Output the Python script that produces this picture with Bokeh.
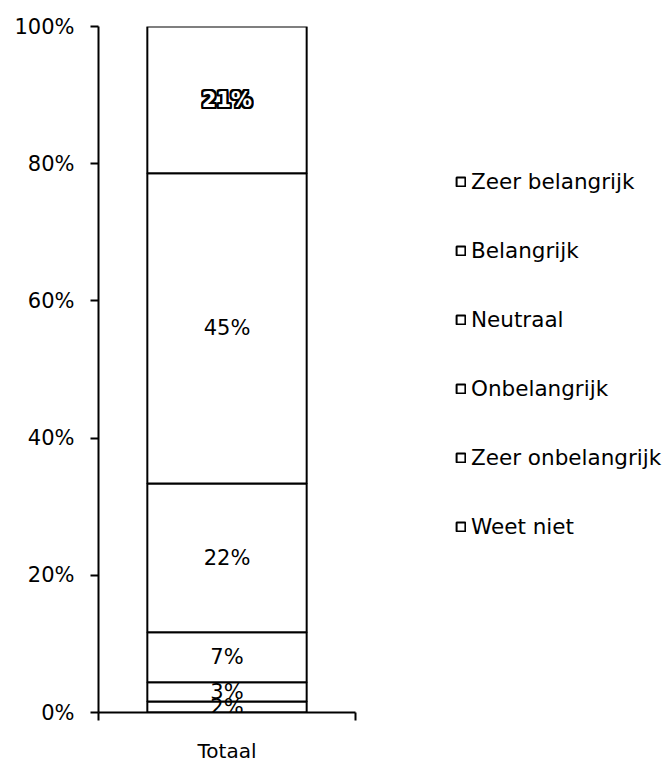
from bokeh.plotting import figure
from bokeh.models import (ColumnDataSource, FixedTicker, PrintfTickFormatter,
                          Legend, LegendItem, Range1d)
from bokeh.core.properties import value
from bokeh.embed import file_html
from bokeh.resources import INLINE

# ---- data ----
categories = ["Totaal"]
series = ["Weet niet", "Zeer onbelangrijk", "Onbelangrijk",
          "Neutraal", "Belangrijk", "Zeer belangrijk"]
values = [1.6, 2.8, 7.3, 21.7, 45.2, 21.4]
y_ticks = [0, 20, 40, 60, 80, 100]

FONT = "DejaVu Sans"

xs = [i + 0.5 for i in range(len(categories))]
data = {"x": xs}
for s, v in zip(series, values):
    data[s] = [v]
src = ColumnDataSource(data)

p = figure(frame_width=257, frame_height=686,
           x_range=Range1d(0, len(categories)), y_range=Range1d(0, 100),
           output_backend="svg", toolbar_location=None,
           min_border_left=98, min_border_top=26, min_border_bottom=44,
           min_border_right=309)

renderers = p.vbar_stack(series, x="x", width=0.62, source=src,
                         fill_color="white", line_color="black", line_width=2)

# segment labels
mids, texts = [], []
acc = 0
for v in values:
    mids.append(acc + v / 2)
    texts.append(f"{round(v)}%")
    acc += v
lab = ColumnDataSource(dict(x=[xs[0]] * (len(values) - 1), y=mids[:-1], text=texts[:-1]))
p.text(x="x", y="y", text="text", source=lab, text_align="center",
       text_baseline="middle", text_font=value(FONT), text_font_size="21px",
       text_color="black")

# last label with halo
top = ColumnDataSource(dict(x=[xs[0]], y=[mids[-1]], text=[texts[-1]]))
for dx in (-2, -1, 0, 1, 2):
    for dy in (-2, -1, 0, 1, 2):
        if dx == 0 and dy == 0:
            continue
        p.text(x="x", y="y", text="text", source=top, text_align="center",
               text_baseline="middle", text_font=value(FONT), text_font_size="21px",
               text_font_style="bold", text_color="black", x_offset=dx, y_offset=dy)
p.text(x="x", y="y", text="text", source=top, text_align="center",
       text_baseline="middle", text_font=value(FONT), text_font_size="21px",
       text_font_style="bold", text_color="white")

# axes
p.xgrid.visible = False
p.ygrid.visible = False
p.outline_line_color = None

ya = p.yaxis[0]
ya.ticker = FixedTicker(ticks=y_ticks)
ya.formatter = PrintfTickFormatter(format="%d%%")
ya.major_tick_in = 0
ya.major_tick_out = 8
ya.minor_tick_out = 0
ya.minor_tick_in = 0
ya.axis_line_width = 2
ya.major_tick_line_width = 2
ya.major_label_text_font = FONT
ya.major_label_text_font_size = "21px"
ya.major_label_text_color = "black"
ya.major_label_standoff = 16

xa = p.xaxis[0]
xa.ticker = FixedTicker(ticks=xs, minor_ticks=list(range(len(categories) + 1)))
xa.major_label_overrides = {x: c for x, c in zip(xs, categories)}
xa.major_tick_in = 0
xa.major_tick_out = 0
xa.minor_tick_in = 0
xa.minor_tick_out = 8
xa.minor_tick_line_width = 2
xa.axis_line_width = 2
xa.major_label_text_font = FONT
xa.major_label_text_font_size = "20px"
xa.major_label_text_color = "black"
xa.major_label_standoff = 18

items = [LegendItem(label=s, renderers=[r])
         for s, r in reversed(list(zip(series, renderers)))]
legend = Legend(items=items, location=(100, 173), glyph_width=11, glyph_height=11,
                label_text_font=FONT, label_text_font_size="21.5px",
                label_text_color="black",
                label_height=24, spacing=44, padding=0, margin=0,
                border_line_color=None, background_fill_alpha=0,
                label_standoff=5)
p.add_layout(legend, "right")

open("out.html", "w").write(file_html(p, INLINE))
